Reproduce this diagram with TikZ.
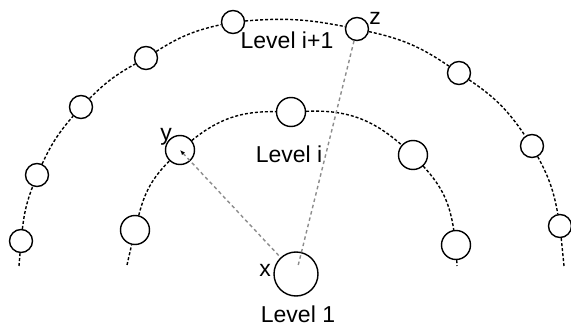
\documentclass[tikz,border=0pt]{standalone}
\usepackage{fontspec}
\setmainfont{Liberation Sans}
\usetikzlibrary{arrows.meta}

\begin{document}
\begin{tikzpicture}[x=1pt,y=-1pt,
  sm/.style={draw,circle,line width=1.4pt,minimum size=23pt,inner sep=0pt},
  md/.style={draw,circle,line width=1.4pt,minimum size=29pt,inner sep=0pt},
  lg/.style={draw,circle,line width=1.4pt,minimum size=44pt,inner sep=0pt},
  ring/.style={line width=1.4pt,dash pattern=on 3pt off 2pt},
  link/.style={line width=1.4pt,black!45,dash pattern=on 3.5pt off 3pt},
  lbl/.style={font=\fontsize{23}{27}\selectfont,inner sep=0pt}]
  \useasboundingbox (0,0) rectangle (571,326);
  \node[sm] (out1) at (21,241) {};
  \node[sm] (out2) at (37,175) {};
  \node[sm] (out3) at (81,107) {};
  \node[sm] (out4) at (146,58) {};
  \node[sm] (out5) at (233,22) {};
  \node[sm] (out6) at (357,29) {};
  \node[sm] (out7) at (459,73) {};
  \node[sm] (out8) at (532,146) {};
  \node[sm] (out9) at (560,226) {};
  \coordinate (out0) at (19,266);
  \coordinate (out10) at (564,266);
  \node[md] (in1) at (135,230) {};
  \node[md] (in2) at (180,150) {};
  \node[md] (in3) at (291,112) {};
  \node[md] (in4) at (413,155) {};
  \node[md] (in5) at (456,245) {};
  \coordinate (in0) at (127,265);
  \coordinate (in6) at (457,266);
  \node[lg] (root) at (296,274) {};
  \draw[ring] (out0) -- (out1);
  \draw[ring] (out9) -- (out10);
  \foreach \a/\b/\t in {out1/out2/7,out2/out3/8,out3/out4/8,out4/out5/10,
    out5/out6/8,out6/out7/11,out7/out8/11,out8/out9/9}
    \draw[ring] (\a) to[bend left=\t] (\b);
  \draw[ring] (in0) -- (in1);
  \draw[ring] (in5) -- (in6);
  \foreach \a/\b/\t in {in1/in2/15,in2/in3/20,in3/in4/22,in4/in5/17}
    \draw[ring] (\a) to[bend left=\t] (\b);
  \draw[link,{Latex[length=5pt,width=4pt,color=black]}-] (in2.center) -- (root);
  \draw[link,shorten >=7pt] (out6) -- (root.center);
  \node[lbl] (ly) at (166,137) {y};
  \node[lbl] (lz) at (375,18) {z};
  \node[lbl] (lx) at (265,270) {x};
  \node[lbl] (top) at (287,40) {Level i+1};
  \node[lbl] (mid) at (289,154) {Level i};
  \node[lbl] (base) at (298,314) {Level 1};
\end{tikzpicture}
\end{document}
